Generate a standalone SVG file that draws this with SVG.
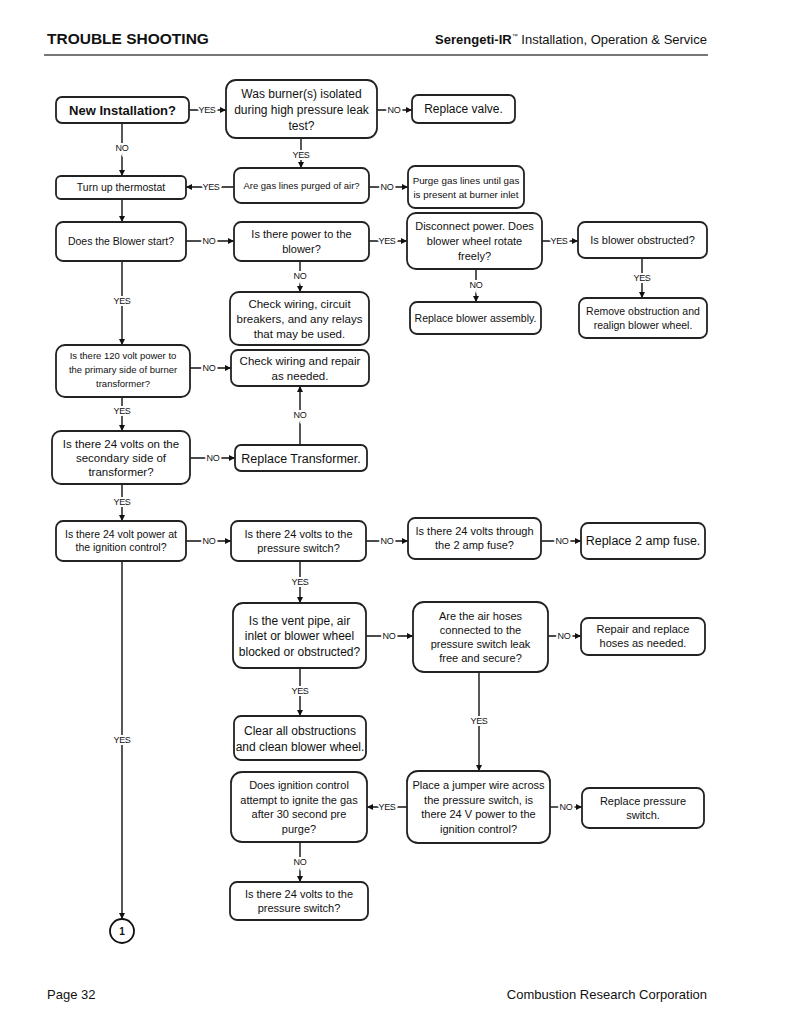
<svg xmlns="http://www.w3.org/2000/svg" width="800" height="1035" viewBox="0 0 800 1035">
<style>
.bg{fill:#fff}
.box{fill:#fff;stroke:#222;stroke-width:1.8}
.t{font-family:"Liberation Sans","DejaVu Sans",sans-serif;fill:#111;text-anchor:middle}
.c{fill:none;stroke:#111;stroke-width:1.4}
.lbl{font-family:"Liberation Sans",sans-serif;font-size:9px;fill:#111;text-anchor:middle;stroke:#fff;stroke-width:4px;paint-order:stroke;letter-spacing:-0.3px}
.hdr{font-family:"Liberation Sans",Arial,sans-serif;fill:#111}
</style>
<defs>
<marker id="ah" viewBox="0 0 10 10" refX="10" refY="5" markerWidth="6" markerHeight="6" markerUnits="userSpaceOnUse" orient="auto">
<path d="M0,0 L10,5 L0,10 z" fill="#111"/>
</marker>
</defs>
<rect class="bg" x="0" y="0" width="800" height="1035"/>

<g id="header">
<text class="hdr" x="47" y="44" font-size="15.5" font-weight="bold">TROUBLE SHOOTING</text>
<text class="hdr" x="707" y="44" font-size="13" text-anchor="end"><tspan font-weight="bold">Serengeti-IR</tspan><tspan font-size="6" dy="-6">™</tspan><tspan dy="6"> Installation, Operation &amp; Service</tspan></text>
<line x1="44" y1="55" x2="708" y2="55" stroke="#777" stroke-width="2"/>
</g>

<g id="connectors">
<path class="c" d="M189,110 H226" marker-end="url(#ah)"/>
<text class="lbl" x="207" y="113">YES</text>
<path class="c" d="M377,110 H412" marker-end="url(#ah)"/>
<text class="lbl" x="394" y="113">NO</text>
<path class="c" d="M301,138 V168" marker-end="url(#ah)"/>
<text class="lbl" x="301" y="158">YES</text>
<path class="c" d="M122,123 V176" marker-end="url(#ah)"/>
<text class="lbl" x="122" y="151">NO</text>
<path class="c" d="M234,187 H186" marker-end="url(#ah)"/>
<text class="lbl" x="211" y="190">YES</text>
<path class="c" d="M369,187 H408" marker-end="url(#ah)"/>
<text class="lbl" x="387" y="190">NO</text>
<path class="c" d="M122,199 V222" marker-end="url(#ah)"/>
<path class="c" d="M186,241 H234" marker-end="url(#ah)"/>
<text class="lbl" x="209" y="244">NO</text>
<path class="c" d="M369,241 H407" marker-end="url(#ah)"/>
<text class="lbl" x="387" y="244">YES</text>
<path class="c" d="M542,241 H578" marker-end="url(#ah)"/>
<text class="lbl" x="559" y="244">YES</text>
<path class="c" d="M300,261 V292" marker-end="url(#ah)"/>
<text class="lbl" x="300" y="279">NO</text>
<path class="c" d="M476,269 V302" marker-end="url(#ah)"/>
<text class="lbl" x="476" y="288">NO</text>
<path class="c" d="M642,258 V298" marker-end="url(#ah)"/>
<text class="lbl" x="642" y="281">YES</text>
<path class="c" d="M122,261 V345" marker-end="url(#ah)"/>
<text class="lbl" x="122" y="304">YES</text>
<path class="c" d="M190,368 H231" marker-end="url(#ah)"/>
<text class="lbl" x="209" y="371">NO</text>
<path class="c" d="M122,398 V431" marker-end="url(#ah)"/>
<text class="lbl" x="122" y="414">YES</text>
<path class="c" d="M190,458 H235" marker-end="url(#ah)"/>
<text class="lbl" x="213" y="461">NO</text>
<path class="c" d="M300,445 V386" marker-end="url(#ah)"/>
<text class="lbl" x="300" y="418">NO</text>
<path class="c" d="M122,484 V521" marker-end="url(#ah)"/>
<text class="lbl" x="122" y="505">YES</text>
<path class="c" d="M186,541 H231" marker-end="url(#ah)"/>
<text class="lbl" x="209" y="544">NO</text>
<path class="c" d="M366,541 H408" marker-end="url(#ah)"/>
<text class="lbl" x="387" y="544">NO</text>
<path class="c" d="M541,541 H581" marker-end="url(#ah)"/>
<text class="lbl" x="562" y="544">NO</text>
<path class="c" d="M300,561 V603" marker-end="url(#ah)"/>
<text class="lbl" x="300" y="585">YES</text>
<path class="c" d="M122,561 V919" marker-end="url(#ah)"/>
<text class="lbl" x="122" y="743">YES</text>
<path class="c" d="M366,636 H413" marker-end="url(#ah)"/>
<text class="lbl" x="389" y="639">NO</text>
<path class="c" d="M548,636 H581" marker-end="url(#ah)"/>
<text class="lbl" x="564" y="639">NO</text>
<path class="c" d="M300,668 V716" marker-end="url(#ah)"/>
<text class="lbl" x="300" y="694">YES</text>
<path class="c" d="M479,672 V771" marker-end="url(#ah)"/>
<text class="lbl" x="479" y="724">YES</text>
<path class="c" d="M407,807 H367" marker-end="url(#ah)"/>
<text class="lbl" x="387" y="810">YES</text>
<path class="c" d="M550,807 H582" marker-end="url(#ah)"/>
<text class="lbl" x="566" y="810">NO</text>
<path class="c" d="M300,842 V882" marker-end="url(#ah)"/>
<text class="lbl" x="300" y="865">NO</text>
</g>

<g id="n_new"><rect class="box" x="56" y="97" width="133" height="26" rx="6"/><text class="t" x="122.5" y="114.5" font-size="13" font-weight="bold">New Installation?</text></g>
<g id="n_burner"><rect class="box" x="226" y="80" width="151" height="58" rx="10"/><text class="t" x="301.5" font-size="12"><tspan x="301.5" y="98">Was burner(s) isolated</tspan><tspan x="301.5" y="114">during high pressure leak</tspan><tspan x="301.5" y="130">test?</tspan></text></g>
<g id="n_valve"><rect class="box" x="412" y="95" width="103" height="28" rx="6"/><text class="t" x="463.5" y="113" font-size="12">Replace valve.</text></g>
<g id="n_thermo"><rect class="box" x="56" y="176" width="130" height="23" rx="5"/><text class="t" x="121" y="191" font-size="10.5">Turn up thermostat</text></g>
<g id="n_purged"><rect class="box" x="234" y="168" width="135" height="35" rx="7"/><text class="t" x="301.5" y="189" font-size="9.5">Are gas lines purged of air?</text></g>
<g id="n_purge"><rect class="box" x="408" y="166" width="116" height="42" rx="7"/><text class="t" font-size="9.8"><tspan x="466" y="183.5">Purge gas lines until gas</tspan><tspan x="466" y="198">is present at burner inlet</tspan></text></g>
<g id="n_blower"><rect class="box" x="56" y="222" width="130" height="39" rx="7"/><text class="t" x="121" y="245" font-size="10.5">Does the Blower start?</text></g>
<g id="n_power"><rect class="box" x="234" y="222" width="135" height="39" rx="7"/><text class="t" font-size="11"><tspan x="301.5" y="238">Is there power to the</tspan><tspan x="301.5" y="253">blower?</tspan></text></g>
<g id="n_disc"><rect class="box" x="407" y="213" width="135" height="56" rx="9"/><text class="t" font-size="11"><tspan x="474.5" y="230">Disconnect power.  Does</tspan><tspan x="474.5" y="245">blower wheel rotate</tspan><tspan x="474.5" y="260">freely?</tspan></text></g>
<g id="n_obstr"><rect class="box" x="578" y="222" width="129" height="36" rx="7"/><text class="t" x="642.5" y="244" font-size="11">Is blower obstructed?</text></g>
<g id="n_check1"><rect class="box" x="230" y="292" width="139" height="53" rx="9"/><text class="t" font-size="11.5"><tspan x="299.5" y="307.5">Check wiring, circuit</tspan><tspan x="299.5" y="322.5">breakers, and any relays</tspan><tspan x="299.5" y="337.5">that may be used.</tspan></text></g>
<g id="n_repl_blower"><rect class="box" x="410" y="302" width="131" height="32" rx="7"/><text class="t" x="475.5" y="322" font-size="10.5">Replace blower assembly.</text></g>
<g id="n_remove"><rect class="box" x="579" y="298" width="128" height="40" rx="7"/><text class="t" font-size="10.5"><tspan x="643" y="314.7">Remove obstruction and</tspan><tspan x="643" y="328.7">realign blower wheel.</tspan></text></g>
<g id="n_120"><rect class="box" x="56" y="345" width="134" height="52" rx="9"/><text class="t" font-size="9.5"><tspan x="123" y="358.8">Is there 120 volt power to</tspan><tspan x="123" y="372.8">the primary side of burner</tspan><tspan x="123" y="386.8">transformer?</tspan></text></g>
<g id="n_check2"><rect class="box" x="231" y="350" width="138" height="36" rx="7"/><text class="t" font-size="11.5"><tspan x="300" y="364.5">Check wiring and repair</tspan><tspan x="300" y="379.5">as needed.</tspan></text></g>
<g id="n_24sec"><rect class="box" x="52" y="431" width="138" height="53" rx="9"/><text class="t" font-size="11.5"><tspan x="121" y="447.5">Is there 24 volts on the</tspan><tspan x="121" y="461.5">secondary side of</tspan><tspan x="121" y="475.5">transformer?</tspan></text></g>
<g id="n_transf"><rect class="box" x="235" y="445" width="132" height="26" rx="6"/><text class="t" x="301" y="462.5" font-size="12.5">Replace Transformer.</text></g>
<g id="n_ign"><rect class="box" x="56" y="521" width="130" height="40" rx="7"/><text class="t" font-size="10.5"><tspan x="121" y="538.2">Is there 24 volt power at</tspan><tspan x="121" y="551.2">the ignition control?</tspan></text></g>
<g id="n_ps1"><rect class="box" x="231" y="521" width="135" height="40" rx="7"/><text class="t" font-size="11"><tspan x="298.5" y="537.9">Is there 24 volts to the</tspan><tspan x="298.5" y="551.9">pressure switch?</tspan></text></g>
<g id="n_fuse"><rect class="box" x="408" y="518" width="133" height="41" rx="7"/><text class="t" font-size="11"><tspan x="474.5" y="535.4">Is there 24 volts through</tspan><tspan x="474.5" y="549.4">the 2 amp fuse?</tspan></text></g>
<g id="n_fuse_repl"><rect class="box" x="581" y="523" width="124" height="36" rx="7"/><text class="t" x="643" y="545.4" font-size="12.5">Replace 2 amp fuse.</text></g>
<g id="n_vent"><rect class="box" x="233" y="603" width="133" height="65" rx="10"/><text class="t" font-size="12"><tspan x="299.5" y="624.5">Is the vent pipe, air</tspan><tspan x="299.5" y="640">inlet or blower wheel</tspan><tspan x="299.5" y="655.5">blocked or obstructed?</tspan></text></g>
<g id="n_hoses"><rect class="box" x="413" y="602" width="135" height="70" rx="11"/><text class="t" font-size="11"><tspan x="480.5" y="619.9">Are the air hoses</tspan><tspan x="480.5" y="633.9">connected to the</tspan><tspan x="480.5" y="647.9">pressure switch leak</tspan><tspan x="480.5" y="661.9">free and secure?</tspan></text></g>
<g id="n_hoses_repl"><rect class="box" x="581" y="618" width="124" height="37" rx="7"/><text class="t" font-size="11"><tspan x="643" y="633.4">Repair and replace</tspan><tspan x="643" y="647.4">hoses as needed.</tspan></text></g>
<g id="n_clear"><rect class="box" x="234" y="716" width="132" height="44" rx="7"/><text class="t" font-size="12"><tspan x="300" y="734.5">Clear all obstructions</tspan><tspan x="300" y="750.5">and clean blower wheel.</tspan></text></g>
<g id="n_jumper"><rect class="box" x="407" y="771" width="143" height="72" rx="11"/><text class="t" font-size="11"><tspan x="478.5" y="789.1">Place a jumper wire across</tspan><tspan x="478.5" y="803.6">the pressure switch, is</tspan><tspan x="478.5" y="818.1">there 24 V power to the</tspan><tspan x="478.5" y="832.6">ignition control?</tspan></text></g>
<g id="n_ignite"><rect class="box" x="231" y="772" width="136" height="70" rx="11"/><text class="t" font-size="11"><tspan x="299" y="789.1">Does ignition control</tspan><tspan x="299" y="803.6">attempt to ignite the gas</tspan><tspan x="299" y="818.1">after 30 second pre</tspan><tspan x="299" y="832.6">purge?</tspan></text></g>
<g id="n_ps_repl"><rect class="box" x="582" y="788" width="122" height="40" rx="7"/><text class="t" font-size="11"><tspan x="643" y="804.9">Replace pressure</tspan><tspan x="643" y="818.9">switch.</tspan></text></g>
<g id="n_ps2"><rect class="box" x="230" y="882" width="138" height="38" rx="7"/><text class="t" font-size="11"><tspan x="299" y="897.9">Is there 24 volts to the</tspan><tspan x="299" y="911.9">pressure switch?</tspan></text></g>
<g id="n_circle"><circle cx="122" cy="931" r="12" fill="#fff" stroke="#111" stroke-width="1.8"/><text class="t" x="122" y="934.5" font-size="10" font-weight="bold">1</text></g>

<g id="footer">
<text class="hdr" x="47" y="999" font-size="13">Page 32</text>
<text class="hdr" x="707" y="999" font-size="13" text-anchor="end">Combustion Research Corporation</text>
</g>
</svg>
